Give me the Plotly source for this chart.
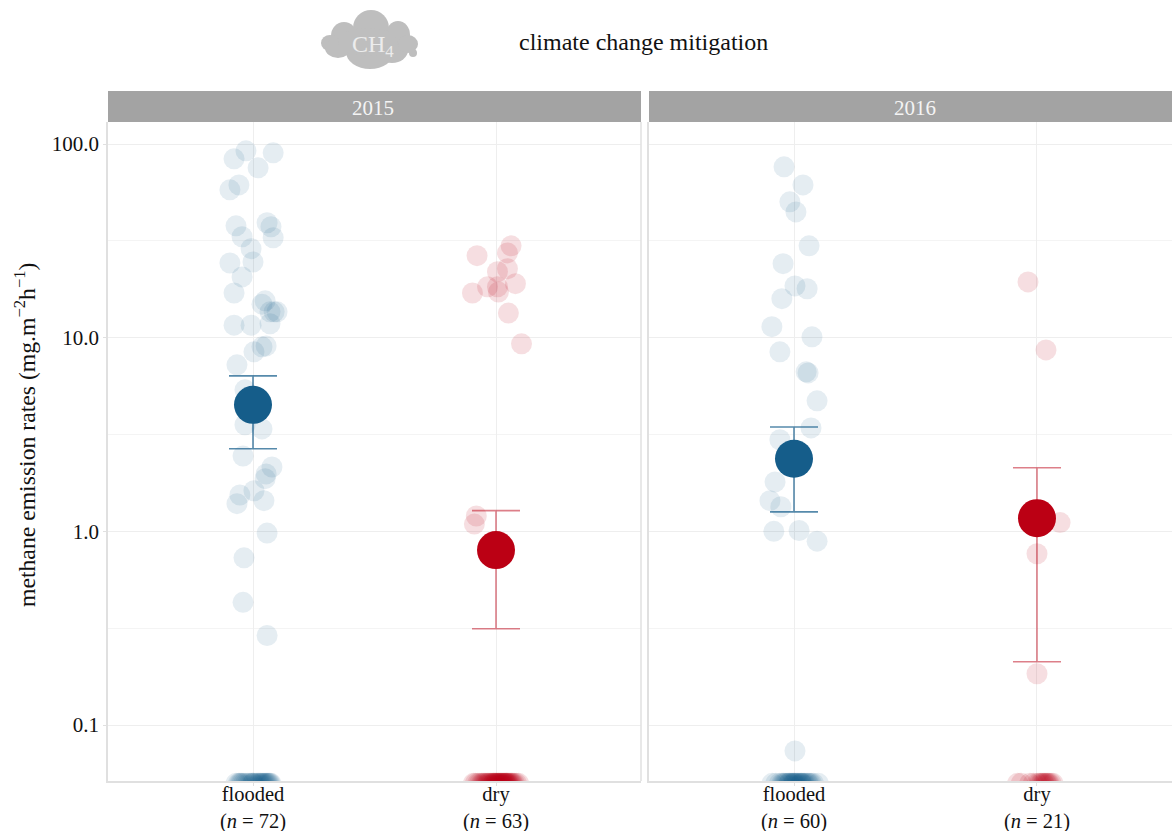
import plotly.graph_objects as go
from plotly.subplots import make_subplots

W, H = 1172, 831
FONT = "Liberation Serif"
BLUE = "#155d8a"
RED = "#bb0014"

categories = [1, 2]
labels_2015 = ["flooded<br>(<i>n</i> = 72)", "dry<br>(<i>n</i> = 63)"]
labels_2016 = ["flooded<br>(<i>n</i> = 60)", "dry<br>(<i>n</i> = 21)"]
y_ticks = [0.1, 1, 10, 100]
y_ticklabels = ["0.1", "1.0", "10.0", "100.0"]
y_minor = [0.316, 3.16, 31.6]

fl15_x = [.971, .922, 1.083, 1.021, .942, .905, .930, 1.058, 1.074, 1.083, .955, .992, .905, 1.0, .955, .922,
          1.05, 1.037, 1.07, 1.087, 1.099, 1.07, .922, .992, 1.054, 1.037, 1.004, .934, .967, .967, 1.037,
          .959, 1.078, 1.054, 1.05, 1.004, .946, .934, 1.045, 1.058, .963, .959, 1.058,
          .93, .94, .945, .955, .962, .97, .978, .985, .992, .998, 1.004, 1.01, 1.016, 1.022, 1.026, 1.03,
          1.034, 1.038, 1.042, 1.046, 1.05, 1.054, 1.058, 1.062, 1.066, 1.07, 1.074, .95, 1.0]
fl15_y = [92.2, 83.8, 90.0, 75.3, 61.5, 58.0, 37.8, 39.2, 37.4, 32.8, 33.2, 28.8, 24.3, 24.6, 20.6, 17.0,
          15.5, 14.9, 13.6, 13.6, 13.6, 11.8, 11.6, 11.6, 9.07, 8.97, 8.45, 7.24, 5.38, 3.55, 3.38,
          2.45, 2.15, 1.98, 1.87, 1.62, 1.54, 1.39, 1.44, .98, .73, .43, .29,
          .05, .05, .05, .05, .05, .05, .05, .05, .05, .05, .05, .05, .05, .05, .05, .05,
          .05, .05, .05, .05, .05, .05, .05, .05, .05, .05, .05, .05, .05]
dr15_x = [2.062, 2.047, 1.922, 2.047, 2.006, 2.08, 1.965, 2.006, 2.01, 1.903, 2.051, 2.105, 1.919, 1.911,
          1.907, 1.915, 1.925, 1.932, 1.94, 1.945, 1.95, 1.955, 1.96, 1.965, 1.968, 1.972, 1.976, 1.98, 1.984,
          1.988, 1.99, 1.992, 1.995, 1.998, 2.0, 2.002, 2.005, 2.008, 2.01, 2.012, 2.015, 2.018, 2.02, 2.022,
          2.025, 2.028, 2.03, 2.032, 2.035, 2.038, 2.04, 2.042, 2.045, 2.048, 2.05, 2.054, 2.058, 2.062, 2.066,
          2.07, 2.076, 2.084, 2.093]
dr15_y = [29.8, 27.4, 26.5, 22.7, 21.9, 19.0, 18.3, 18.3, 17.2, 17.0, 13.4, 9.29, 1.20, 1.09] + [.05] * 49
fl16_x = [.959, 1.037, .983, 1.008, 1.062, .955, 1.004, 1.054, .95, .909, 1.074, .942, 1.05, 1.058, 1.095,
          1.07, .942, .922, .901, .946, .917, 1.021, 1.095, 1.004,
          .91, .925, .94, .95, .955, .96, .965, .97, .975, .98, .985, .99, .993, .996, 1.0, 1.004, 1.008,
          1.012, 1.016, 1.02, 1.024, 1.028, 1.032, 1.036, 1.04, 1.044, 1.05, 1.056, 1.06, 1.066, 1.072, 1.08,
          .98, 1.0, 1.03, 1.1]
fl16_y = [76.2, 61.5, 50.3, 44.6, 29.8, 24.1, 18.5, 17.9, 15.9, 11.4, 10.1, 8.45, 6.66, 6.58, 4.72,
          3.42, 2.97, 1.80, 1.44, 1.34, 1.0, 1.01, .89, .0735] + [.05] * 36
dr16_x = [1.963, 2.037, 2.095, 2.0, 2.0, 1.92, 1.935, 1.97, 1.985, 2.0, 2.008, 2.015, 2.02, 2.026, 2.03, 2.036,
          2.04, 2.045, 2.05, 2.058, 2.066]
dr16_y = [19.4, 8.65, 1.11, .766, .184] + [.05] * 16

mean_fl = [4.50, 2.37]
hi_fl = [6.35, 3.46]
lo_fl = [2.67, 1.26]
mean_dr = [.80, 1.17]
hi_dr = [1.28, 2.13]
lo_dr = [.314, .212]

fig = make_subplots(rows=1, cols=2, shared_yaxes=False)


def add_panel(col, fx, fy, dx, dy, i):
    fig.add_trace(go.Scatter(x=fx, y=fy, mode="markers", showlegend=False,
                             marker=dict(size=21, color=BLUE, opacity=0.11, line=dict(width=0))), row=1, col=col)
    fig.add_trace(go.Scatter(x=dx, y=dy, mode="markers", showlegend=False,
                             marker=dict(size=21, color=RED, opacity=0.13, line=dict(width=0))), row=1, col=col)
    for m, hi, lo, c, ec, sz in [(mean_fl, hi_fl, lo_fl, BLUE, "rgba(21,93,138,0.72)", 38),
                                 (mean_dr, hi_dr, lo_dr, RED, "rgba(187,0,20,0.5)", 38)]:
        cat = 1 if c == BLUE else 2
        fig.add_trace(go.Scatter(
            x=[cat], y=[m[i]], mode="markers", showlegend=False,
            marker=dict(size=sz, color=c, line=dict(width=0)),
            error_y=dict(type="data", symmetric=False, array=[hi[i] - m[i]], arrayminus=[m[i] - lo[i]],
                         color=ec, thickness=1.6, width=24)), row=1, col=col)


add_panel(1, fl15_x, fl15_y, dr15_x, dr15_y, 0)
add_panel(2, fl16_x, fl16_y, dr16_x, dr16_y, 1)

axis_line = "#e0e0e0"
grid = "#eeeeee"
fig.update_xaxes(type="linear", tickmode="array", tickvals=categories, showgrid=True, gridcolor=grid, gridwidth=1.4,
                 zeroline=False, showline=True, linecolor=axis_line, linewidth=1.5, mirror=False,
                 ticks="outside", ticklen=3, tickcolor=axis_line, automargin=False, ticklabelstandoff=-9,
                 tickfont=dict(family=FONT, size=20.5, color="#111"))
fig.update_layout(
    xaxis=dict(domain=[108 / W, 641 / W], range=[.4033, 2.5967], ticktext=labels_2015),
    xaxis2=dict(domain=[649 / W, 1], range=[.4033, 2.5556], ticktext=labels_2016),
)
bottom, top = 1 - 781 / H, 1 - 122 / H
yrange = [-1.289, 2.1136]
common_y = dict(type="log", range=yrange, domain=[bottom, top], tickmode="array", tickvals=y_ticks,
                showgrid=True, gridcolor=grid, gridwidth=1.4, zeroline=False, showline=True, automargin=False,
                linecolor=axis_line, linewidth=1.5,
                minor=dict(tickmode="array", tickvals=y_minor, showgrid=True, gridcolor="#f4f4f4", gridwidth=1.2,
                           ticks=""))
fig.update_layout(
    yaxis=dict(common_y, ticktext=y_ticklabels, ticks="outside", ticklen=3, tickcolor=axis_line,
               tickfont=dict(family=FONT, size=21, color="#111")),
    yaxis2=dict(common_y, showticklabels=False, ticks=""),
)


def px(x):
    return x / W


def py(y):
    return 1 - y / H


shapes = []
shapes.append(dict(type="line", xref="paper", yref="paper", x0=px(641), x1=px(641), y0=py(122), y1=py(781),
                   line=dict(color=axis_line, width=1.5)))
for a, b in [(108, 641), (649, 1172)]:
    shapes.append(dict(type="rect", xref="paper", yref="paper", x0=px(a), x1=px(b), y0=py(91), y1=py(122),
                       fillcolor="#a3a3a3", line=dict(width=0), layer="above"))
for cx, cy, rx, ry in [(371, 28, 18, 18), (344, 36, 13, 14), (398, 35, 12, 14), (370, 52, 24, 17), (392, 50, 16, 13),
                       (330, 43, 9, 8), (338, 48, 13, 10), (408, 44, 10, 9), (413, 53, 4, 4), (368, 42, 30, 14)]:
    shapes.append(dict(type="circle", xref="paper", yref="paper", x0=px(cx - rx), x1=px(cx + rx),
                       y0=py(cy + ry), y1=py(cy - ry), fillcolor="#bebebe", line=dict(width=0), layer="above"))


def note(x, y, text, size, color, **kw):
    return dict(x=px(x), y=py(y), xref="paper", yref="paper", text=text, showarrow=False,
                xanchor="center", yanchor="middle",
                font=dict(family=FONT, size=size, color=color), **kw)


annotations = [
    note(373, 107.5, "2015", 21, "#f4f4f4"),
    note(915, 107.5, "2016", 21, "#f4f4f4"),
    note(643, 42, "climate change mitigation", 24, "#111"),
    note(373, 46, "CH<sub>4</sub>", 24, "#ececec"),
    note(25, 435, "methane emission rates (mg.m<sup>\u22122</sup>h<sup>\u22121</sup>)", 23.7, "#111", textangle=-90),
]

fig.update_layout(
    width=W, height=H, margin=dict(l=0, r=0, t=0, b=0, pad=0, autoexpand=False), autosize=False,
    paper_bgcolor="white", plot_bgcolor="white", shapes=shapes, annotations=annotations, showlegend=False,
)
fig.write_html("out.html", config=dict(displayModeBar=False),
               post_script="document.body.style.margin='0';document.body.style.overflow='hidden';")
